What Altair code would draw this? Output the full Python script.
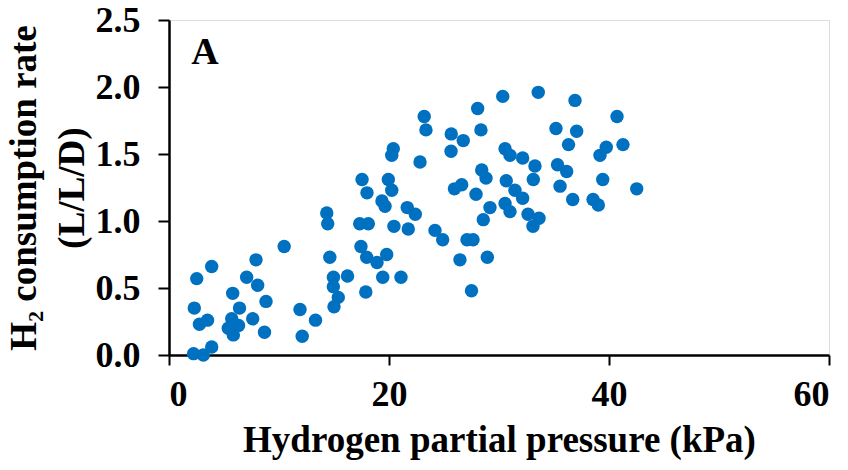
import altair as alt
import pandas as pd

# Hydrogen partial pressure (kPa)
pressure = [
    2.23, 3.12, 3.88, 2.30, 2.77, 3.50, 2.52, 3.88, 5.79, 6.41,
    5.70, 5.39, 5.85, 6.32, 7.61, 7.06, 8.06, 7.91, 8.82, 8.68,
    10.47, 11.91, 13.32, 12.11, 14.34, 14.43, 14.62, 14.95, 14.94, 15.39,
    15.00, 16.23, 17.89, 17.45, 17.97, 18.91, 19.79, 19.43, 21.09, 17.34,
    18.12, 20.45, 21.75, 21.66, 22.39, 19.36, 19.64, 20.25, 19.94, 18.00,
    17.55, 22.82, 20.39, 20.25, 23.20, 23.36, 25.66, 26.75, 25.64, 28.06,
    28.36, 30.34, 24.18, 24.88, 26.45, 27.09, 27.64, 28.94, 27.50, 28.57,
    29.18, 27.91, 25.95, 26.61, 28.43, 28.82, 30.55, 31.00, 32.15, 33.27,
    33.12, 35.32, 36.15, 30.66, 31.45, 32.15, 30.55, 31.00, 32.64, 33.64,
    33.09, 33.57, 36.91, 40.73, 35.18, 37.06, 36.32, 39.75, 39.18, 41.27,
    39.43, 35.55, 36.70, 38.55, 39.03, 42.52,
]
# H2 consumption rate (L/L/D)
rate = [
    0.01, 0.00, 0.06, 0.35, 0.23, 0.26, 0.57, 0.66, 0.46, 0.35,
    0.27, 0.20, 0.15, 0.22, 0.27, 0.58, 0.52, 0.71, 0.40, 0.17,
    0.81, 0.34, 0.26, 0.14, 1.06, 0.98, 0.73, 0.58, 0.51, 0.43,
    0.36, 0.59, 0.47, 0.81, 0.73, 0.69, 0.75, 0.58, 0.58, 0.98,
    0.98, 0.96, 0.94, 1.10, 1.05, 1.15, 1.11, 1.23, 1.31, 1.21,
    1.31, 1.44, 1.54, 1.49, 1.78, 1.68, 1.65, 1.60, 1.52, 1.84,
    1.68, 1.93, 0.93, 0.86, 0.71, 0.86, 0.86, 0.73, 0.48, 1.01,
    1.10, 1.20, 1.24, 1.27, 1.38, 1.32, 1.54, 1.49, 1.47, 1.41,
    1.31, 1.42, 1.37, 1.30, 1.23, 1.17, 1.13, 1.07, 1.05, 1.02,
    0.96, 1.96, 1.90, 1.78, 1.69, 1.67, 1.57, 1.55, 1.49, 1.57,
    1.31, 1.26, 1.16, 1.16, 1.12, 1.24,
]

x_ticks = [0, 20, 40, 60]
y_ticks = [0.0, 0.5, 1.0, 1.5, 2.0, 2.5]

panel_label = ["A"]
label_x = [3.27]
label_y = [2.17]

df = pd.DataFrame({"p": pressure, "r": rate})
lab = pd.DataFrame({"t": panel_label, "x": label_x, "y": label_y})

FONT = "Liberation Serif"

xscale = alt.Scale(domain=[0, 60], nice=False, zero=False)
yscale = alt.Scale(domain=[0, 2.5], nice=False, zero=False)

points = alt.Chart(df).mark_circle(size=180, opacity=1, color="#0070C0").encode(
    x=alt.X(
        "p:Q",
        scale=xscale,
        axis=alt.Axis(
            values=x_ticks,
            title="Hydrogen partial pressure (kPa)",
            grid=False,
            labelFont=FONT, labelFontWeight="bold", labelFontSize=36,
            labelColor="black", labelPadding=12,
            titleFont=FONT, titleFontWeight="bold", titleFontSize=37,
            titleColor="black", titlePadding=10,
            domainColor="black", domainWidth=2.5,
            tickColor="black", tickSize=10, tickWidth=2,
        ),
    ),
    y=alt.Y(
        "r:Q",
        scale=yscale,
        axis=alt.Axis(
            values=y_ticks,
            format=".1f",
            title=["H₂ consumption rate", "(L/L/D)"],
            grid=False,
            labelFont=FONT, labelFontWeight="bold", labelFontSize=36,
            labelColor="black", labelPadding=18,
            titleFont=FONT, titleFontWeight="bold", titleFontSize=37,
            titleColor="black", titlePadding=4, titleLineHeight=48,
            domainColor="black", domainWidth=2.5,
            tickColor="black", tickSize=11, tickWidth=2,
        ),
    ),
)

label = alt.Chart(lab).mark_text(
    font=FONT, fontWeight="bold", fontSize=38, color="black",
    align="center", baseline="alphabetic"
).encode(
    x=alt.X("x:Q", scale=xscale),
    y=alt.Y("y:Q", scale=yscale),
    text="t:N",
)

chart = (
    alt.layer(points, label)
    .properties(
        width=660,
        height=335,
        autosize=alt.AutoSizeParams(type="none"),
        padding={"left": 169, "top": 20, "right": 19, "bottom": 115},
    )
    .configure_view(stroke="black", strokeWidth=2.5)
    .configure(background="white")
)

chart.save("out.html", embed_options={"renderer": "svg", "actions": False})
